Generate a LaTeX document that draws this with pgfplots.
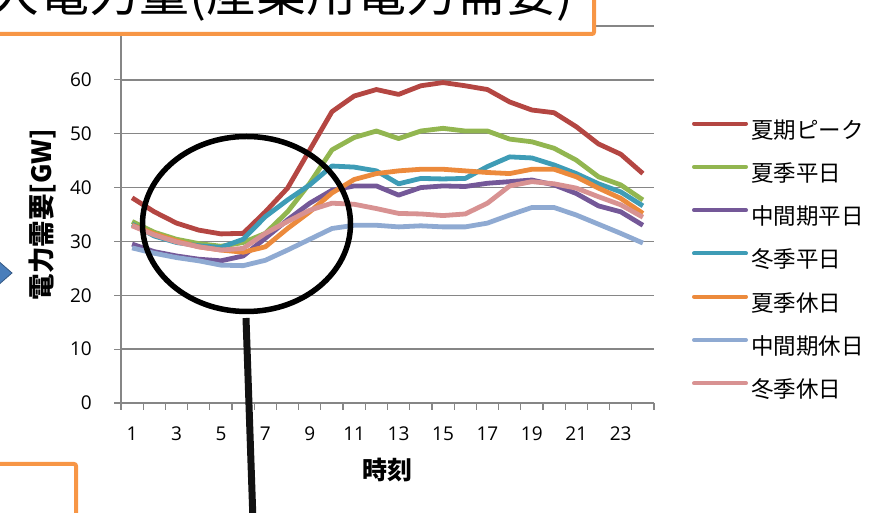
\documentclass[border=0pt]{standalone}
\usepackage{pgfplots}
\usepackage{pgfplotstable}
\pgfplotsset{compat=1.18}
\usepackage{fontspec}
\setmainfont{Open Sans}
\newfontfamily\jp{Noto Sans CJK JP}

\definecolor{cPeak}{RGB}{180,70,66}
\definecolor{cSumWd}{RGB}{146,182,80}
\definecolor{cMidWd}{RGB}{116,88,152}
\definecolor{cWinWd}{RGB}{62,156,182}
\definecolor{cSumHd}{RGB}{236,138,60}
\definecolor{cMidHd}{RGB}{143,170,210}
\definecolor{cWinHd}{RGB}{216,146,146}
\definecolor{gridgray}{RGB}{134,134,134}
\definecolor{boxorange}{RGB}{247,150,70}
\definecolor{arrowblue}{RGB}{74,126,187}

% hourly demand [GW]
\pgfplotstableread{
h  peak  sumwd midwd winwd sumhd midhd winhd
1  38.1  33.7  29.5  33.2  33.0  28.8  32.9
2  35.5  31.7  28.1  31.0  31.4  27.8  31.2
3  33.4  30.4  27.3  29.8  30.1  27.0  29.9
4  32.1  29.6  26.7  29.2  29.0  26.4  29.0
5  31.4  29.1  26.4  28.9  28.4  25.6  28.4
6  31.5  29.8  27.3  30.4  28.0  25.5  28.7
7  35.5  31.5  30.6  34.6  29.0  26.5  31.5
8  39.9  35.5  34.0  37.7  32.4  28.4  33.7
9  47.0  40.8  37.1  40.5  35.5  30.4  35.8
10 54.1  47.0  39.5  44.0  39.0  32.4  37.1
11 57.0  49.3  40.3  43.8  41.5  33.0  36.9
12 58.2  50.5  40.3  43.1  42.6  33.0  36.1
13 57.3  49.1  38.6  40.7  43.1  32.7  35.2
14 58.9  50.5  40.0  41.7  43.4  32.9  35.1
15 59.5  51.0  40.3  41.6  43.4  32.7  34.8
16 58.9  50.5  40.2  41.7  43.1  32.7  35.1
17 58.2  50.5  40.8  43.9  42.8  33.4  37.1
18 55.9  49.0  41.1  45.7  42.6  34.9  40.3
19 54.4  48.5  41.4  45.5  43.4  36.3  41.1
20 53.9  47.3  40.5  44.2  43.4  36.3  40.7
21 51.3  45.1  38.9  42.6  42.0  34.9  39.9
22 48.1  42.0  36.6  40.7  39.9  33.2  38.3
23 46.2  40.5  35.5  39.2  38.0  31.5  36.8
24 42.6  37.7  33.0  36.6  35.2  29.7  34.5
}\demand

\begin{document}
\begin{tikzpicture}[x=1pt,y=1pt]
\clip (0pt,0pt) rectangle (885pt,513pt);
\path[use as bounding box] (0pt,0pt) rectangle (885pt,513pt);
\begin{axis}[
  at={(121pt,110pt)}, anchor=south west,
  scale only axis, width=533pt, height=377pt,
  xmin=0.5, xmax=24.5, ymin=0, ymax=70,
  axis x line*=bottom, axis y line*=left,
  axis line style={gridgray, line width=1.3pt, -},
  ytick={0,10,...,70},
  xtick={0.5,1.5,...,24.5}, xticklabels={},
  extra x ticks={1,3,...,23},
  extra x tick labels={1,3,5,7,9,11,13,15,17,19,21,23},
  extra x tick style={major tick length=0pt},
  tick align=outside, major tick length=7pt,
  tick style={gridgray, line width=1.2pt},
  ymajorgrids,
  major grid style={gridgray, line width=1.3pt},
  /pgf/number format/assume math mode=true,
  tick label style={font=\fontsize{19}{19}\selectfont, inner sep=0pt},
  yticklabel style={anchor=east, xshift=-22pt},
  xticklabel style={anchor=center, yshift=-31pt},
  every axis x label/.style={at={(axis description cs:0.5,-0.1777)}, anchor=center},
  every axis y label/.style={at={(axis description cs:-0.1482,0.5)}, anchor=center, rotate=90},
  xlabel={\jp\bfseries 時刻},
  ylabel={\jp\bfseries 電力需要[GW]},
  xlabel style={font=\fontsize{25}{25}\selectfont},
  ylabel style={font=\fontsize{26.5}{26.5}\selectfont},
  legend cell align=left,
  legend style={at={(axis description cs:1.0713,0.748)}, anchor=north west,
    draw=none, fill=none, inner sep=0pt, outer sep=0pt,
    row sep=22.3pt, column sep=3pt,
    font=\jp\fontsize{22.5}{22.5}\selectfont,
    nodes={inner sep=0pt, text height=17pt, text depth=4pt}},
  legend image code/.code={\draw[#1, line width=4pt, line cap=round] (0pt,8pt) -- (52pt,8pt);},
  every axis plot/.append style={line width=4.8pt, line join=round},
]
\addplot[cPeak]  table[x=h, y=peak]  {\demand};
\addplot[cSumWd] table[x=h, y=sumwd] {\demand};
\addplot[cMidWd] table[x=h, y=midwd] {\demand};
\addplot[cWinWd] table[x=h, y=winwd] {\demand};
\addplot[cSumHd] table[x=h, y=sumhd] {\demand};
\addplot[cMidHd] table[x=h, y=midhd] {\demand};
\addplot[cWinHd] table[x=h, y=winhd] {\demand};
\legend{夏期ピーク,夏季平日,中間期平日,冬季平日,夏季休日,中間期休日,冬季休日}
\end{axis}

% callout ring around the early-morning hours and its pointer
\draw[black, line width=5.5pt] (246.5pt,289pt) ellipse [x radius=104pt, y radius=87.5pt];
\draw[black!93, line width=7pt] (246pt,195pt) -- (253pt,-8pt);

% slide title box
\draw[boxorange, line width=4pt, fill=white, rounded corners=2pt] (-10pt,479pt) rectangle (594pt,530pt);
\node[anchor=base east, inner sep=0pt, font=\jp\fontsize{50}{50}\selectfont] at (574pt,501pt) {最大電力量(産業用電力需要)};

% lower-left text box
\draw[boxorange, line width=4pt, fill=white, rounded corners=2pt] (-10pt,-10pt) rectangle (76pt,49pt);

% arrow head at the left edge
\fill[arrowblue, draw=arrowblue!70!black, line width=0.8pt] (-4pt,226pt) -- (12pt,240pt) -- (-4pt,254pt) -- cycle;
\end{tikzpicture}
\end{document}
